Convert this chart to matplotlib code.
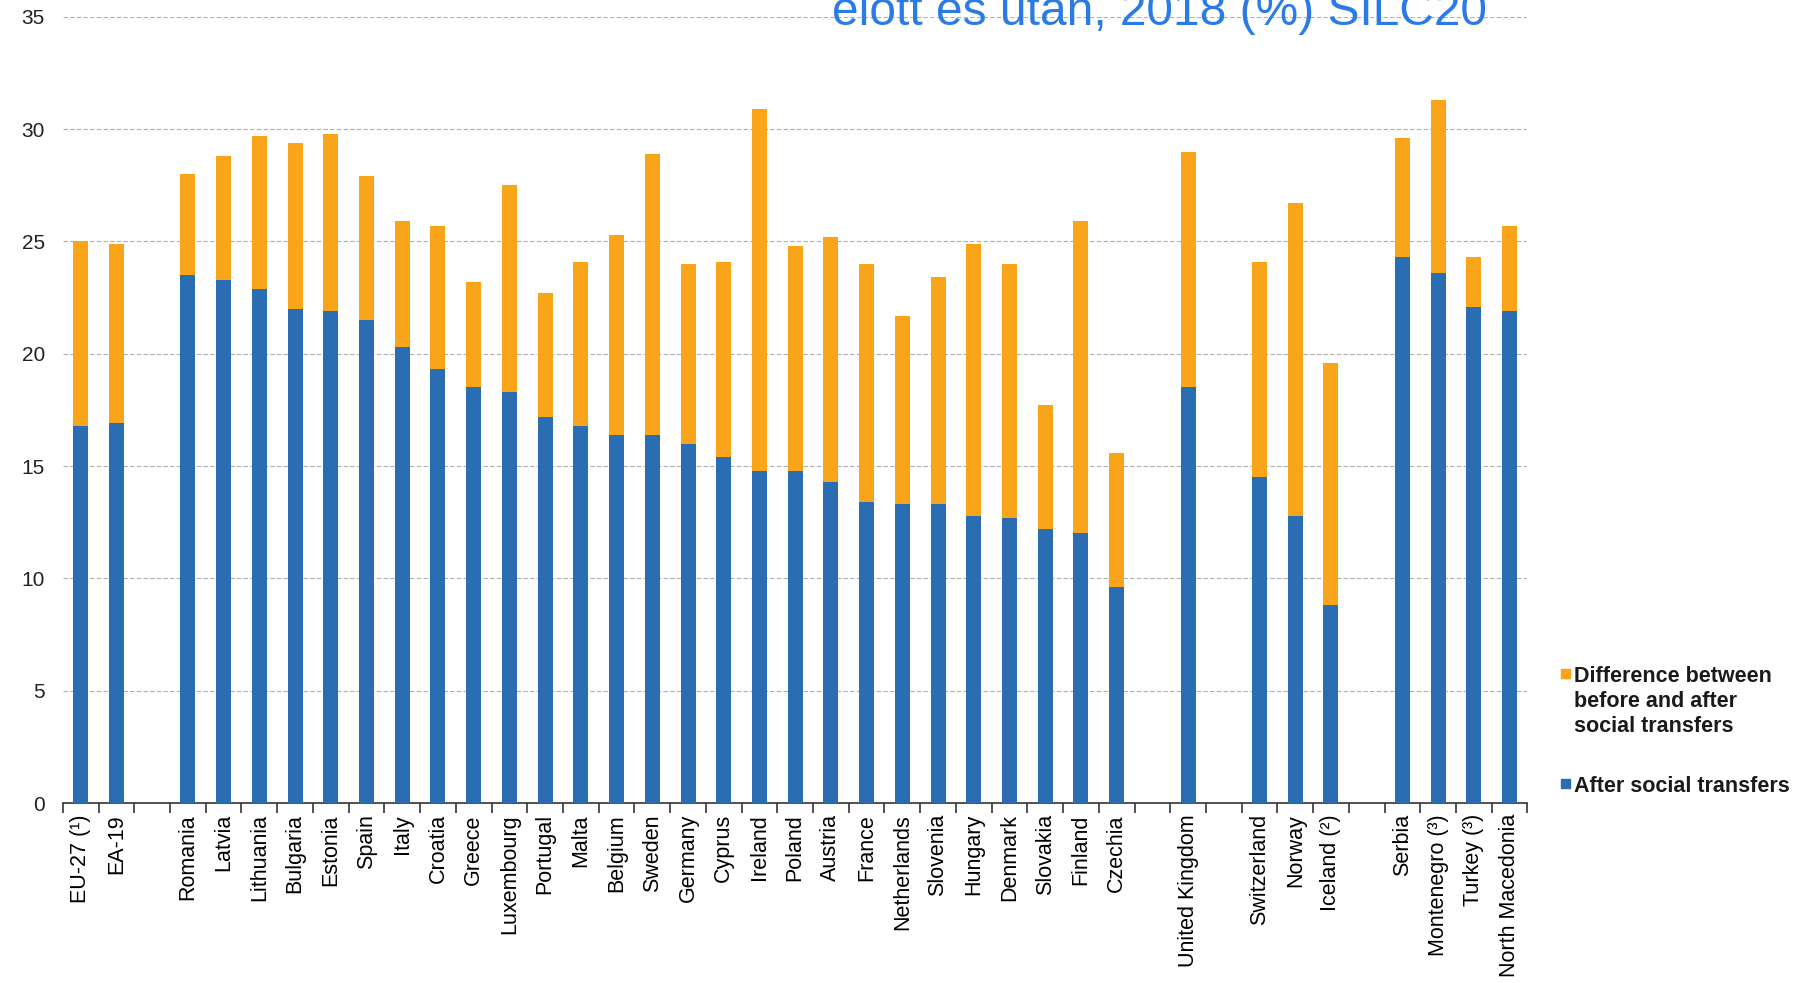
import numpy as np
import matplotlib.pyplot as plt
from matplotlib.patches import Rectangle

plt.rcParams['font.family'] = ['Liberation Sans', 'DejaVu Sans']

# kategorier; None = tom plats mellan grupperna
labels = ['EU-27 (¹)', 'EA-19', None,
          'Romania', 'Latvia', 'Lithuania', 'Bulgaria', 'Estonia', 'Spain',
          'Italy', 'Croatia', 'Greece', 'Luxembourg', 'Portugal', 'Malta',
          'Belgium', 'Sweden', 'Germany', 'Cyprus', 'Ireland', 'Poland',
          'Austria', 'France', 'Netherlands', 'Slovenia', 'Hungary',
          'Denmark', 'Slovakia', 'Finland', 'Czechia', None,
          'United Kingdom', None,
          'Switzerland', 'Norway', 'Iceland (²)', None,
          'Serbia', 'Montenegro (³)', 'Turkey (³)', 'North Macedonia']

# efter sociala transfereringar
after = [16.8, 16.9, None,
         23.5, 23.3, 22.9, 22.0, 21.9, 21.5,
         20.3, 19.3, 18.5, 18.3, 17.2, 16.8,
         16.4, 16.4, 16.0, 15.4, 14.8, 14.8,
         14.3, 13.4, 13.3, 13.3, 12.8,
         12.7, 12.2, 12.0, 9.6, None,
         18.5, None,
         14.5, 12.8, 8.8, None,
         24.3, 23.6, 22.1, 21.9]

# före sociala transfereringar (total stapelhöjd)
before = [25.0, 24.9, None,
          28.0, 28.8, 29.7, 29.4, 29.8, 27.9,
          25.9, 25.7, 23.2, 27.5, 22.7, 24.1,
          25.3, 28.9, 24.0, 24.1, 30.9, 24.8,
          25.2, 24.0, 21.7, 23.4, 24.9,
          24.0, 17.7, 25.9, 15.6, None,
          29.0, None,
          24.1, 26.7, 19.6, None,
          29.6, 31.3, 24.3, 25.7]

leg_labels = ['Difference between\nbefore and after\nsocial transfers',
              'After social transfers']

blue = '#2a6db3'
orange = '#faa41a'

def main():
    n = len(labels)
    idx = np.array([i for i in range(n) if labels[i] is not None])
    a = np.array([after[i] for i in idx])
    b = np.array([before[i] for i in idx])
    diff = b - a

    fig = plt.figure(figsize=(17.97, 9.83), dpi=100)
    ax = fig.add_axes([0.035, 0.183, 0.815, 0.8])

    w = 0.42
    ax.bar(idx, a, w, color=blue, zorder=3)
    ax.bar(idx, diff, w, bottom=a, color=orange, zorder=3)

    ax.set_xlim(-0.5, n - 0.5)
    ax.set_ylim(0, 35)
    ax.set_yticks(np.arange(0, 36, 5))
    ax.yaxis.grid(True, linestyle=(0, (4, 2)), color='#b0b0b0', linewidth=0.8)
    ax.set_axisbelow(True)

    ax.set_xticks(idx)
    ax.set_xticklabels([labels[i] for i in idx], rotation=90, fontsize=15.5)
    ax.set_xticks(np.arange(-0.5, n, 1.0), minor=True)
    ax.tick_params(axis='x', which='major', length=0, pad=8)
    ax.tick_params(axis='x', which='minor', length=7, width=1.2, color='#333333')
    ax.tick_params(axis='y', length=0, labelsize=15, pad=13, labelcolor='#222222')

    for s in ['top', 'right', 'left']:
        ax.spines[s].set_visible(False)
    ax.spines['bottom'].set_color('#333333')
    ax.spines['bottom'].set_linewidth(1.2)

    # legend: fyrkant i höjd med första textraden
    W, H = 1797, 983
    for lab, col, y in [(leg_labels[0], orange, 676), (leg_labels[1], blue, 786)]:
        fig.patches.append(Rectangle((1561 / W, 1 - (y + 2) / H), 8.5 / W, 9 / H,
                                     transform=fig.transFigure, color=col))
        fig.text(1574 / W, 1 - (y - 10) / H, lab, fontsize=15.5, fontweight='bold',
                 color='#1a1a1a', ha='left', va='top', linespacing=1.25,
                 transform=fig.transFigure)

    fig.text(0.463, 0.9746, 'előtt és után, 2018 (%) SILC20', fontsize=34.5,
             color='#2b7be6', ha='left', va='baseline')

    fig.savefig('out.png', dpi=100)

if __name__ == '__main__':
    main()
